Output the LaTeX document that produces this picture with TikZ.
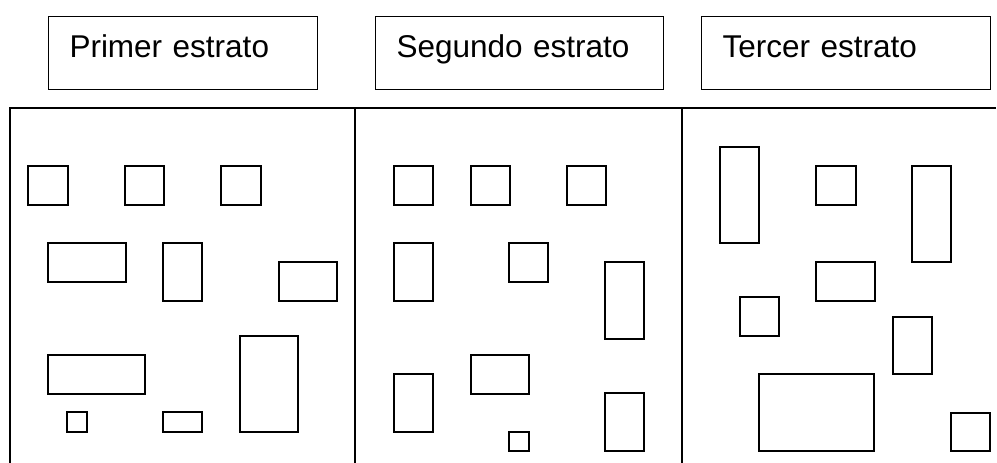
\documentclass[tikz,border=0pt]{standalone}
\usepackage{fontspec}
\setmainfont{Liberation Sans}
\usepackage{tikz}
\usetikzlibrary{positioning}

\begin{document}
\begin{tikzpicture}[x=1pt, y=-1pt, line width=1.1pt,
  strataBox/.style={draw, line width=1pt, anchor=north west, minimum height=73pt,
    inner xsep=21pt, inner ysep=0pt, align=left, text height=20pt, text depth=11pt,
    font=\fontsize{31.5}{36}\selectfont}]
  \useasboundingbox (0,0) rectangle (997,463);

  % headers
  \node[strataBox, text width=227pt] (primer) at (48,16) {Primer estrato};
  \node[strataBox, text width=246pt] (segundo) at (375,16) {Segundo estrato};
  \node[strataBox, text width=247pt] (tercer) at (701,16) {Tercer estrato};

  % population frame
  \draw (10,463) -- (10,108) -- (996,108);
  \draw (355,108) -- (355,463);
  \draw (682,108) -- (682,463);

  % units of the first stratum
  \foreach \xa/\ya/\xb/\yb in {28/166/68/205, 125/166/164/205, 221/166/261/205,
      48/243/126/282, 163/243/202/301, 279/262/337/301,
      48/355/145/394, 240/336/298/432, 67/412/87/432, 163/412/202/432}
    \draw (\xa,\ya) rectangle (\xb,\yb);

  % units of the second stratum
  \foreach \xa/\ya/\xb/\yb in {394/166/433/205, 471/166/510/205, 567/166/606/205,
      394/243/433/301, 509/243/548/282, 605/262/644/339,
      394/374/433/432, 471/355/529/394, 509/432/529/451, 605/393/644/451}
    \draw (\xa,\ya) rectangle (\xb,\yb);

  % units of the third stratum
  \foreach \xa/\ya/\xb/\yb in {720/147/759/243, 816/166/856/205, 912/166/951/262,
      816/262/875/301, 740/297/779/336, 893/317/932/374,
      759/374/874/451, 951/413/990/451}
    \draw (\xa,\ya) rectangle (\xb,\yb);
\end{tikzpicture}
\end{document}
